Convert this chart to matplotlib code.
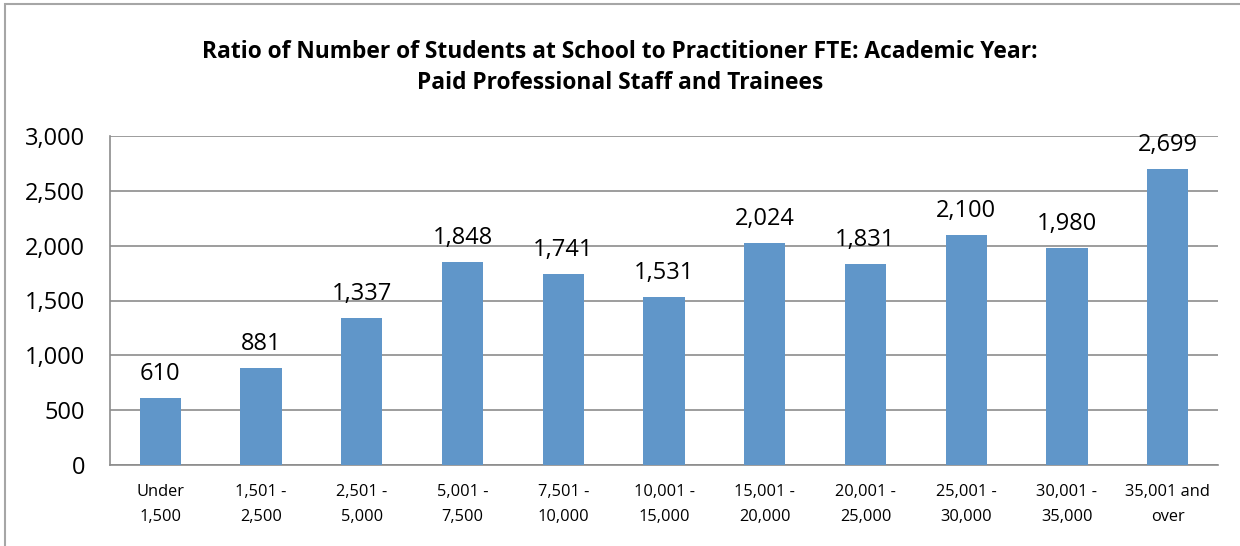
import matplotlib.pyplot as plt
from matplotlib.patches import Rectangle

categories = ["Under\n1,500", "1,501 -\n2,500", "2,501 -\n5,000", "5,001 -\n7,500",
              "7,501 -\n10,000", "10,001 -\n15,000", "15,001 -\n20,000", "20,001 -\n25,000",
              "25,001 -\n30,000", "30,001 -\n35,000", "35,001 and\nover"]
values = [610, 881, 1337, 1848, 1741, 1531, 2024, 1831, 2100, 1980, 2699]
yticks = [0, 500, 1000, 1500, 2000, 2500, 3000]

plt.rcParams['font.family'] = ['Open Sans', 'DejaVu Sans']

fig = plt.figure(figsize=(12.4, 5.46), dpi=100)
ax = fig.add_axes([110 / 1240, 81 / 546, 1108 / 1240, 329 / 546])

# outer chart border (cut off on the right and bottom in the original)
fig.patches.append(Rectangle((5 / 1240, -0.1), 1.2, 1 - 4 / 546 + 0.1,
                             transform=fig.transFigure, fill=False,
                             edgecolor='#a6a6a6', linewidth=1.5))

x = range(len(categories))
ax.bar(x, values, width=0.41, color='#6096c9', zorder=3)
for xi, v in zip(x, values):
    ax.text(xi, v + 110, f"{v:,}", ha='center', va='bottom', fontsize=17)

ax.set_xlim(-0.5, len(categories) - 0.5)
ax.set_ylim(0, 3000)
ax.set_yticks(yticks)
ax.set_yticklabels([f"{t:,}" for t in yticks], fontsize=17)
ax.set_xticks(list(x))
ax.set_xticklabels(categories, fontsize=11.8, linespacing=1.75)
ax.tick_params(axis='y', length=0, pad=18)
ax.tick_params(axis='x', length=0, pad=14)
ax.grid(axis='y', color='#8c8c8c', linewidth=1.2, zorder=0)
for side in ['top', 'right']:
    ax.spines[side].set_visible(False)
for side in ['left', 'bottom']:
    ax.spines[side].set_color('#8c8c8c')
    ax.spines[side].set_linewidth(1.2)

fig.text(0.5, 0.876, "Ratio of Number of Students at School to Practitioner FTE: Academic Year:\n"
         "Paid Professional Staff and Trainees", ha='center', va='center',
         fontsize=16.4, fontweight='bold', linespacing=1.4)

fig.savefig("out.png", dpi=100)
